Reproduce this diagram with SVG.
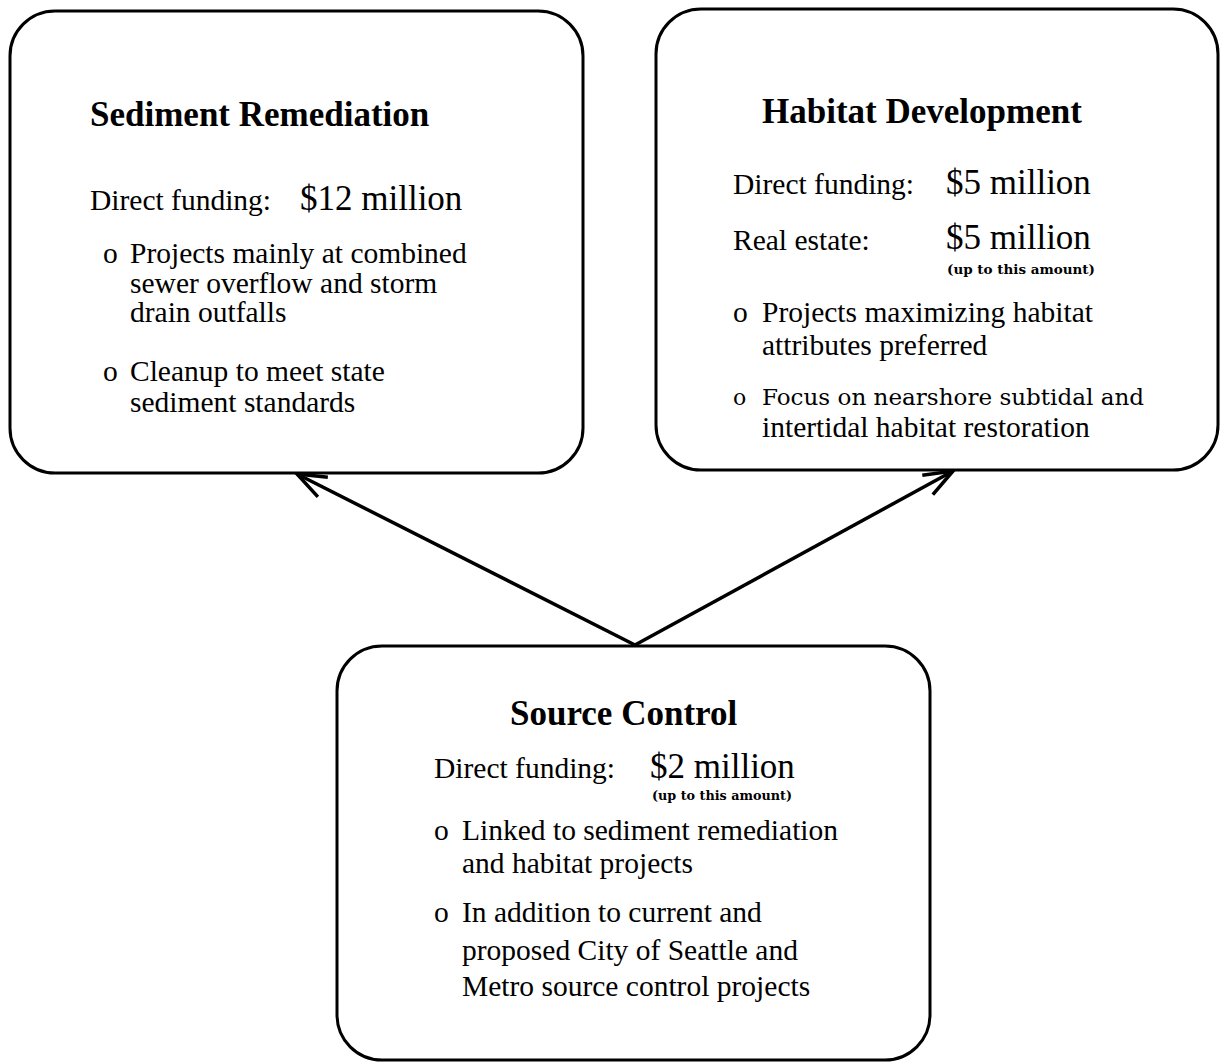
<svg xmlns="http://www.w3.org/2000/svg" width="1220" height="1063" viewBox="0 0 1220 1063">
<style>
.box{fill:#fff;stroke:#000;stroke-width:3}
text{font-family:"Liberation Serif","Times New Roman",serif;fill:#000}
.t{font-size:35px;font-weight:bold}
.b{font-size:29.5px}
.m{font-size:35px}
.s{font-family:"DejaVu Serif",serif;font-size:13px;font-weight:bold}
.f{font-family:"DejaVu Serif",serif;font-size:22px}
.c{stroke:#000;stroke-width:3.5;fill:none}
</style>
<defs>
<marker id="ah" viewBox="-32 -16 34 32" refX="0" refY="0" markerWidth="34" markerHeight="32" markerUnits="userSpaceOnUse" orient="auto">
<path d="M-29,-11 L0,0 L-29,11" fill="none" stroke="#000" stroke-width="3.5"/>
</marker>
</defs>
<rect width="1220" height="1063" fill="#fff"/>
<g id="sediment-remediation">
<rect class="box" x="10" y="11" width="573" height="462" rx="45" ry="45"/>
<text class="t" x="90" y="126">Sediment Remediation</text>
<text class="b" x="90" y="210">Direct funding:</text>
<text class="m" x="300" y="210">$12 million</text>
<text class="b" x="103" y="263">o</text>
<text class="b" x="130" y="263">Projects mainly at combined</text>
<text class="b" x="130" y="293">sewer overflow and storm</text>
<text class="b" x="130" y="322">drain outfalls</text>
<text class="b" x="103" y="381">o</text>
<text class="b" x="130" y="381">Cleanup to meet state</text>
<text class="b" x="130" y="412">sediment standards</text>
</g>
<g id="habitat-development">
<rect class="box" x="656" y="9" width="562" height="461" rx="45" ry="45"/>
<text class="t" x="762" y="123">Habitat Development</text>
<text class="b" x="733" y="194">Direct funding:</text>
<text class="m" x="946" y="194">$5 million</text>
<text class="b" x="733" y="250">Real estate:</text>
<text class="m" x="946" y="249">$5 million</text>
<text class="s" x="947" y="274" textLength="148" lengthAdjust="spacingAndGlyphs">(up to this amount)</text>
<text class="b" x="733" y="322">o</text>
<text class="b" x="762" y="322">Projects maximizing habitat</text>
<text class="b" x="762" y="355">attributes preferred</text>
<text class="f" x="733" y="405">o</text>
<text class="f" x="762" y="405" textLength="382" lengthAdjust="spacingAndGlyphs">Focus on nearshore subtidal and</text>
<text class="b" x="762" y="437">intertidal habitat restoration</text>
</g>
<g id="source-control">
<rect class="box" x="337" y="646" width="593" height="414" rx="45" ry="45"/>
<text class="t" x="510" y="725">Source Control</text>
<text class="b" x="434" y="778">Direct funding:</text>
<text class="m" x="650" y="778">$2 million</text>
<text class="s" x="652" y="800" textLength="140" lengthAdjust="spacingAndGlyphs">(up to this amount)</text>
<text class="b" x="434" y="840">o</text>
<text class="b" x="462" y="840">Linked to sediment remediation</text>
<text class="b" x="462" y="873">and habitat projects</text>
<text class="b" x="434" y="922">o</text>
<text class="b" x="462" y="922">In addition to current and</text>
<text class="b" x="462" y="960">proposed City of Seattle and</text>
<text class="b" x="462" y="996">Metro source control projects</text>
</g>
<g id="connectors">
<line class="c" x1="635" y1="645" x2="297" y2="474" marker-end="url(#ah)"/>
<line class="c" x1="635" y1="645" x2="953" y2="471" marker-end="url(#ah)"/>
</g>
</svg>
